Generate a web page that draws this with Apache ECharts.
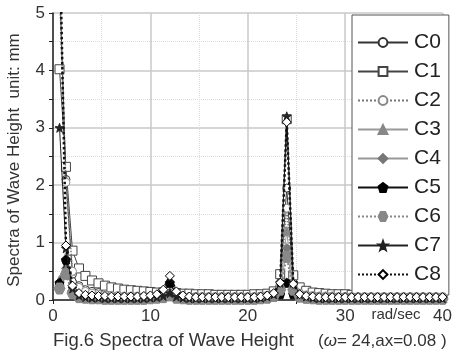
<!DOCTYPE html>
<html><head><meta charset="utf-8">
<script src="https://cdn.jsdelivr.net/npm/echarts@6/dist/echarts.min.js"></script>
<style>html,body{margin:0;padding:0;background:#fff}#c{width:455px;height:358px}</style>
</head><body><div id="c"></div>
<script>
const freq = [0.67,1.33,2,2.67,3.33,4,4.67,5.33,6,6.67,7.33,8,8.67,9.33,10,10.67,11.33,12,12.67,13.33,14,14.67,15.33,16,16.67,17.33,18,18.67,19.33,20,20.67,21.33,22,22.67,23.33,24,24.67,25.33,26,26.67,27.33,28,28.67,29.33,30,30.67,31.33,32,32.67,33.33,34,34.67,35.33,36,36.67,37.33,38,38.67,39.33,40];
const seriesNames = ['C0','C1','C2','C3','C4','C5','C6','C7','C8'];
const C0 = [5.6,2.1,0.45,0.25,0.18,0.15,0.13,0.12,0.11,0.1,0.1,0.09,0.09,0.09,0.08,0.08,0.08,0.1,0.08,0.07,0.07,0.07,0.07,0.07,0.07,0.07,0.07,0.07,0.07,0.07,0.07,0.08,0.09,0.12,0.3,1.95,0.3,0.14,0.1,0.09,0.08,0.08,0.08,0.08,0.07,0.07,0.07,0.07,0.07,0.07,0.07,0.07,0.07,0.07,0.07,0.07,0.07,0.07,0.07,0.07];
const C1 = [4.02,2.32,0.86,0.55,0.42,0.34,0.29,0.25,0.22,0.2,0.18,0.17,0.16,0.15,0.14,0.13,0.13,0.15,0.12,0.11,0.11,0.1,0.1,0.1,0.09,0.09,0.09,0.09,0.09,0.09,0.1,0.1,0.11,0.15,0.45,3.15,0.43,0.22,0.16,0.13,0.12,0.11,0.1,0.1,0.1,0.09,0.09,0.09,0.09,0.09,0.08,0.08,0.08,0.08,0.08,0.08,0.08,0.08,0.08,0.08];
const C2 = [5.4,2.05,0.5,0.22,0.15,0.12,0.1,0.09,0.08,0.08,0.07,0.07,0.07,0.06,0.06,0.06,0.06,0.09,0.06,0.06,0.06,0.06,0.06,0.06,0.06,0.06,0.06,0.06,0.06,0.06,0.06,0.07,0.08,0.11,0.25,1.6,0.26,0.12,0.09,0.08,0.07,0.07,0.07,0.06,0.06,0.06,0.06,0.06,0.06,0.06,0.06,0.06,0.06,0.06,0.06,0.06,0.06,0.06,0.06,0.06];
const C3 = [0.35,0.75,0.2,0.08,0.05,0.04,0.04,0.03,0.03,0.03,0.03,0.03,0.03,0.03,0.04,0.05,0.08,0.15,0.07,0.04,0.03,0.03,0.03,0.03,0.03,0.03,0.03,0.03,0.03,0.03,0.03,0.04,0.05,0.08,0.2,1.2,0.2,0.07,0.05,0.04,0.03,0.03,0.03,0.03,0.03,0.03,0.03,0.03,0.03,0.03,0.03,0.03,0.03,0.03,0.03,0.03,0.03,0.03,0.03,0.03];
const C4 = [0.25,0.55,0.15,0.06,0.04,0.03,0.03,0.02,0.02,0.02,0.02,0.02,0.02,0.02,0.03,0.04,0.06,0.1,0.05,0.03,0.02,0.02,0.02,0.02,0.02,0.02,0.02,0.02,0.02,0.02,0.02,0.03,0.04,0.07,0.17,0.9,0.17,0.06,0.04,0.03,0.02,0.02,0.02,0.02,0.02,0.02,0.02,0.02,0.02,0.02,0.02,0.02,0.02,0.02,0.02,0.02,0.02,0.02,0.02,0.02];
const C5 = [0.3,0.7,0.15,0.06,0.04,0.03,0.03,0.02,0.02,0.02,0.02,0.02,0.02,0.03,0.04,0.06,0.12,0.3,0.1,0.04,0.03,0.02,0.02,0.02,0.02,0.02,0.02,0.02,0.02,0.02,0.02,0.03,0.04,0.06,0.1,0.3,0.1,0.05,0.03,0.03,0.02,0.02,0.02,0.02,0.02,0.02,0.02,0.02,0.02,0.02,0.02,0.02,0.02,0.02,0.02,0.02,0.02,0.02,0.02,0.02];
const C6 = [0.2,0.45,0.12,0.05,0.04,0.03,0.03,0.02,0.02,0.02,0.02,0.02,0.02,0.02,0.03,0.04,0.05,0.08,0.04,0.03,0.02,0.02,0.02,0.02,0.02,0.02,0.02,0.02,0.02,0.02,0.02,0.03,0.04,0.07,0.18,0.75,0.18,0.06,0.04,0.03,0.02,0.02,0.02,0.02,0.02,0.02,0.02,0.02,0.02,0.02,0.02,0.02,0.02,0.02,0.02,0.02,0.02,0.02,0.02,0.02];
const C7 = [3.0,0.9,0.2,0.08,0.05,0.04,0.04,0.03,0.03,0.03,0.03,0.03,0.03,0.03,0.04,0.05,0.07,0.12,0.06,0.04,0.03,0.03,0.03,0.03,0.03,0.03,0.03,0.03,0.03,0.03,0.03,0.04,0.06,0.1,0.3,3.2,0.3,0.1,0.06,0.04,0.03,0.03,0.03,0.03,0.03,0.03,0.03,0.03,0.03,0.03,0.03,0.03,0.03,0.03,0.03,0.03,0.03,0.03,0.03,0.03];
const C8 = [6.5,0.95,0.25,0.12,0.09,0.08,0.07,0.07,0.06,0.06,0.06,0.06,0.06,0.07,0.08,0.1,0.18,0.42,0.15,0.08,0.06,0.05,0.05,0.05,0.05,0.05,0.05,0.05,0.05,0.05,0.05,0.06,0.08,0.12,0.3,3.1,0.28,0.1,0.07,0.06,0.05,0.05,0.05,0.05,0.05,0.05,0.05,0.05,0.05,0.05,0.05,0.05,0.05,0.05,0.05,0.05,0.05,0.05,0.05,0.05];
const yTicks = [0,1,2,3,4,5];
const xTicks = [0,10,20,30,40];

const values = [C0,C1,C2,C3,C4,C5,C6,C7,C8];
const PENT = 'path://M0,-10 L9.5,-3.1 L5.9,8.1 L-5.9,8.1 L-9.5,-3.1 Z';
const HEX = 'path://M-5,-8.66 L5,-8.66 L10,0 L5,8.66 L-5,8.66 L-10,0 Z';
const STAR = 'path://M0,-10 L2.35,-3.24 L9.51,-3.09 L3.8,1.24 L5.88,8.09 L0,4 L-5.88,8.09 L-3.8,1.24 L-9.51,-3.09 L-2.35,-3.24 Z';
const styles = [
  {line:'#333', type:'solid', w:1, sym:'circle', size:8, fill:'#fff', border:'#333'},
  {line:'#444', type:'solid', w:1, sym:'rect', size:9, fill:'#fff', border:'#444'},
  {line:'#777', type:'dotted', w:1.5, sym:'circle', size:8, fill:'#fff', border:'#888'},
  {line:'#999', type:'solid', w:1, sym:'triangle', size:9, fill:'#888', border:'#888'},
  {line:'#999', type:'solid', w:1, sym:'diamond', size:9, fill:'#777', border:'#777'},
  {line:'#111', type:'solid', w:1, sym:PENT, size:9, fill:'#000', border:'#000'},
  {line:'#888', type:'dotted', w:2, sym:HEX, size:11, fill:'#888', border:'#888'},
  {line:'#222', type:'solid', w:1, sym:STAR, size:9, fill:'#222', border:'#222'},
  {line:'#111', type:'dotted', w:2.5, sym:'diamond', size:9, fill:'#fff', border:'#000'}
];

const chart = echarts.init(document.getElementById('c'), null, {renderer:'canvas'});
const FONT = 'Liberation Sans, Arial, sans-serif';
chart.setOption({
  animation:false,
  backgroundColor:'#fff',
  grid:{left:53, right:9, top:13, bottom:58, containLabel:false},
  xAxis:{type:'value', min:0, max:40, interval:10,
    axisLine:{onZero:false, lineStyle:{color:'#222', width:1.5}},
    axisTick:{show:true, inside:false, length:4, lineStyle:{color:'#222'}},
    minorTick:{show:true, splitNumber:2, length:4, lineStyle:{color:'#222'}},
    axisLabel:{color:'#333', fontSize:17, fontFamily:FONT, margin:8,
      formatter:v => xTicks.includes(v) ? String(v) : ''},
    splitLine:{show:true, lineStyle:{color:'#c8c8c8', width:1.5}},
    minorSplitLine:{show:true, lineStyle:{color:'#dcdcdc', type:'dotted', width:1}}
  },
  yAxis:{type:'value', min:0, max:5, interval:1,
    axisLine:{lineStyle:{color:'#222', width:1.5}},
    axisTick:{show:true, inside:false, length:4, lineStyle:{color:'#222'}},
    minorTick:{show:true, splitNumber:2, length:4, lineStyle:{color:'#222'}},
    axisLabel:{color:'#333', fontSize:17, fontFamily:FONT, margin:8,
      formatter:v => yTicks.includes(v) ? String(v) : ''},
    splitLine:{show:true, lineStyle:{color:'#c8c8c8', width:1.5}},
    minorSplitLine:{show:true, lineStyle:{color:'#dcdcdc', type:'dotted', width:1}}
  },
  legend:{orient:'vertical', left:352, top:15, width:94, height:262,
    padding:[17,8,10,5], itemGap:8, itemWidth:50, itemHeight:11,
    backgroundColor:'#fff', borderColor:'#555', borderWidth:1,
    textStyle:{fontSize:21, fontFamily:FONT, color:'#222', padding:[0,0,0,1]},
    data:seriesNames},
  series: seriesNames.map((n,i) => ({
    name:n, type:'line', data:freq.map((x,j)=>[x, values[i][j]]),
    symbol:styles[i].sym, symbolSize:styles[i].size, showAllSymbol:true,
    clip:true, z:2+i,
    lineStyle:{color:styles[i].line, width:styles[i].w, type:styles[i].type},
    itemStyle:{color:styles[i].fill, borderColor:styles[i].border, borderWidth:1}
  })),
  graphic:[
    {type:'text', x:14, y:160, rotation:Math.PI/2, style:{text:'Spectra of Wave Height  unit: mm', fontSize:17, fontFamily:FONT, fill:'#333', align:'center', verticalAlign:'middle'}},
    {type:'text', x:396, y:315, style:{text:'rad/sec', fontSize:15, fontFamily:FONT, fill:'#333', align:'center', verticalAlign:'middle'}},
    {type:'text', x:53, y:341, style:{text:'Fig.6 Spectra of Wave Height', fontSize:18.5, fontFamily:FONT, fill:'#333', align:'left', verticalAlign:'middle'}},
    {type:'text', x:318, y:341, style:{rich:{i:{fontStyle:'italic', fontSize:17, fontFamily:FONT, fill:'#333'}, n:{fontSize:17, fontFamily:FONT, fill:'#333'}}, text:'{n|(}{i|ω}{n|= 24,ax=0.08 )}', align:'left', verticalAlign:'middle'}}
  ]
});
</script></body></html>
